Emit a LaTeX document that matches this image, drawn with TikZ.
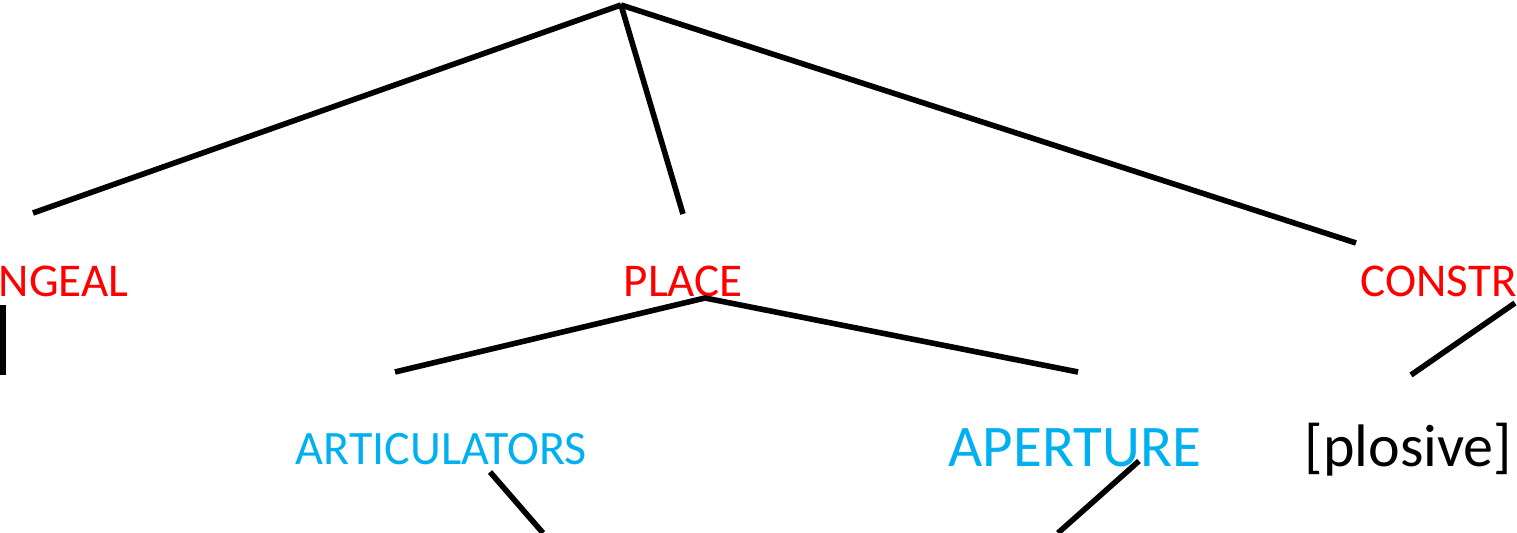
\documentclass[tikz,border=0pt]{standalone}
\usepackage{fontspec}
\setmainfont{Carlito}
\definecolor{featred}{HTML}{FF0000}
\definecolor{featblue}{HTML}{00B0F0}
\begin{document}
\begin{tikzpicture}[x=0.5pt,y=-0.5pt, line width=2.8pt,
		feat/.style={anchor=base west,inner sep=0pt,text=featred,font=\fontsize{23.5}{28}\selectfont},
		sub/.style={anchor=base west,inner sep=0pt,text=featblue,font=\fontsize{24}{28}\selectfont},
		big/.style={anchor=base west,inner sep=0pt,font=\fontsize{30}{35}\selectfont}]
	\clip (0,0) rectangle (1517,533);
	\node[feat] (lar) at (-4,297) {NGEAL};
	\node[feat] (place) at (621,297) {PLACE};
	\node[feat] (constr) at (1358,297) {CONSTR};
	\node[sub] (artic) at (293,465) {ARTICULATORS};
	\node[sub,font=\fontsize{29.5}{35}\selectfont] (apert) at (946,467) {APERTURE};
	\node[big] (plos) at (1302,467) {[plosive]};
	\coordinate (root) at (621,5);
	\coordinate (lartop) at (33,213);
	\coordinate (placetop) at (683,214);
	\coordinate (constrtop) at (1356,243);
	\coordinate (larbot) at (3,305);
	\coordinate (larend) at (3,375);
	\coordinate (placebot) at (705,298);
	\coordinate (artictop) at (395,372);
	\coordinate (aperttop) at (1078,372);
	\coordinate (constrbot) at (1515,303);
	\coordinate (plostop) at (1411,375);
	\coordinate (articbot) at (490,472);
	\coordinate (articend) at (543,533);
	\coordinate (apertbot) at (1139,461);
	\coordinate (apertend) at (1058,533);
	\draw (root)--(lartop);
	\draw (root)--(placetop);
	\draw (root)--(constrtop);
	\draw (larbot)--(larend);
	\draw (artictop)--(placebot)--(aperttop);
	\draw (constrbot)--(plostop);
	\draw (articbot)--(articend);
	\draw (apertbot)--(apertend);
\end{tikzpicture}
\end{document}
